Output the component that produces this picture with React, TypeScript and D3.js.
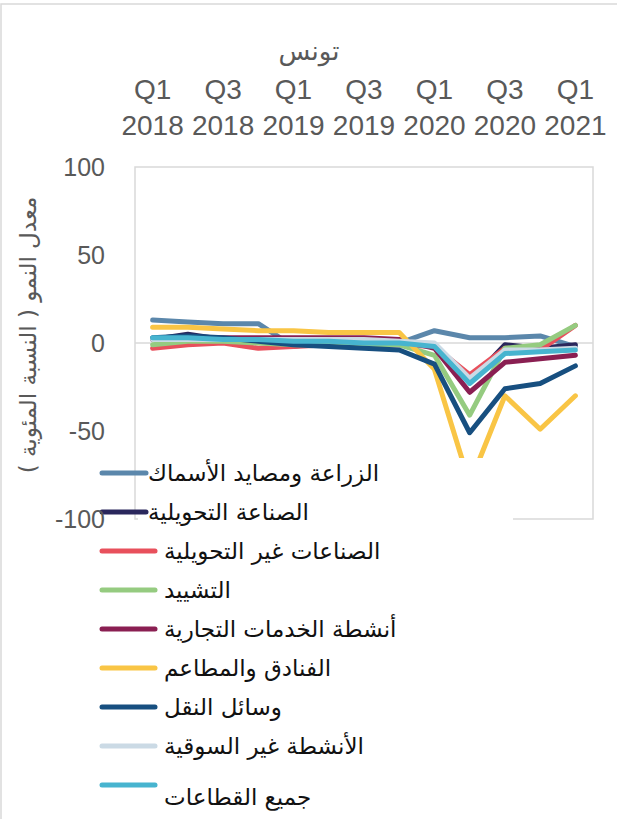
import React from "react";
import * as d3 from "d3";

const quarters = [
  "Q1 2018", "Q2 2018", "Q3 2018", "Q4 2018",
  "Q1 2019", "Q2 2019", "Q3 2019", "Q4 2019",
  "Q1 2020", "Q2 2020", "Q3 2020", "Q4 2020",
  "Q1 2021",
];
const tickQuarters = ["Q1 2018", "Q3 2018", "Q1 2019", "Q3 2019", "Q1 2020", "Q3 2020", "Q1 2021"];
const yTicks = [100, 50, 0, -50, -100];
const gridValues = [0];

const chartTitle = "تونس";
const yAxisTitle = "معدل النمو ( النسبة المئوية )";

const seriesNames = [
  "الزراعة ومصايد الأسماك",
  "الصناعة التحويلية",
  "الصناعات غير التحويلية",
  "التشييد",
  "أنشطة الخدمات التجارية",
  "الفنادق والمطاعم",
  "وسائل النقل",
  "الأنشطة غير السوقية",
  "جميع القطاعات",
];

const agriculture = [13, 12, 11, 11, -2, 1, 0, 0, 7, 3, 3, 4, -2];
const manufacturing = [2, 5, 2, 1, 1, 0, 0, 0, -1, -22, -1, -3, -1];
const nonManufacturing = [-3, -1, 0, -3, -2, -1, -1, -1, -2, -18, -3, -4, 10];
const construction = [-1, 1, 1, 0, -1, -1, -1, -1, -7, -41, -3, -1, 10];
const tradeServices = [2, 3, 3, 3, 3, 3, 3, 2, -3, -28, -11, -9, -7];
const hotels = [9, 9, 8, 7, 7, 6, 6, 6, -15, -80, -30, -49, -30];
const transport = [3, 4, 3, 1, -1, -2, -3, -4, -12, -51, -26, -23, -13];
const nonMarket = [2, 2, 2, 2, 2, 2, 2, 1, 0, -20, -4, -4, -3];
const allSectors = [3, 3, 2, 2, 1, 1, 0, 0, -2, -23, -6, -5, -4];

const seriesValues = [
  agriculture, manufacturing, nonManufacturing, construction,
  tradeServices, hotels, transport, nonMarket, allSectors,
];
const seriesColors = [
  "#5B87AB", "#2A275C", "#E8505C", "#95CB80",
  "#8A1F52", "#F9C545", "#174F80", "#CBDAE5", "#47B4CF",
];

const W = 617;
const H = 819;
const plot = { left: 135, right: 593, top: 167, bottom: 519 };
const gray = "#595959";
const numFont = "'Liberation Sans', Arial, sans-serif";
const arFont = "'DejaVu Sans', sans-serif";

export default function App() {
  const x = d3.scalePoint<string>().domain(quarters).range([plot.left, plot.right]).padding(0.5);
  const y = d3.scaleLinear().domain([-100, 100]).range([plot.bottom, plot.top]);
  const line = d3
    .line<number>()
    .x((_, i) => x(quarters[i]) as number)
    .y((d) => y(d));

  const legendTop = 473;
  const legendStep = 39;

  return (
    <svg
      width={W}
      height={H}
      style={{ position: "absolute", left: 0, top: 0, background: "#fff" }}
    >
      <rect x={0} y={0} width={W} height={H} fill="#fff" />
      <rect x={1} y={4} width={W + 20} height={H + 20} fill="none" stroke="#d9d9d9" strokeWidth={1.5} />

      {/* title */}
      <text x={309} y={60} textAnchor="middle" fontFamily={arFont} fontSize={26} fill={gray}>
        {chartTitle}
      </text>

      {/* x tick labels (top) */}
      {tickQuarters.map((q) => {
        const [qq, yr] = q.split(" ");
        const cx = x(q) as number;
        return (
          <g key={q} fontFamily={numFont} fontSize={28} fill={gray} textAnchor="middle">
            <text x={cx} y={99}>{qq}</text>
            <text x={cx} y={135}>{yr}</text>
          </g>
        );
      })}

      {/* plot border + gridlines */}
      <rect
        x={plot.left}
        y={plot.top}
        width={plot.right - plot.left}
        height={plot.bottom - plot.top}
        fill="none"
        stroke="#d9d9d9"
        strokeWidth={1.5}
      />
      {gridValues.map((g) => (
        <line key={g} x1={plot.left} x2={plot.right} y1={y(g)} y2={y(g)} stroke="#d9d9d9" strokeWidth={1.5} />
      ))}

      {/* series */}
      {seriesValues.map((vals, i) => (
        <path
          key={seriesNames[i]}
          d={line(vals) || ""}
          fill="none"
          stroke={seriesColors[i]}
          strokeWidth={5}
          strokeLinejoin="round"
          strokeLinecap="round"
        />
      ))}

      {/* y axis title */}
      <text
        transform={`translate(28, 335) rotate(-90)`}
        textAnchor="middle"
        dominantBaseline="central"
        fontFamily={arFont}
        fontSize={23}
        fill={gray}
      >
        {yAxisTitle}
      </text>

      {/* legend */}
      <rect x={138} y={458} width={375} height={H - 458} fill="#fff" />
      {seriesNames.map((name, i) => {
        const ly = legendTop + i * legendStep;
        return (
          <g key={name}>
            <line x1={102} x2={i < 2 ? 146 : 155} y1={ly} y2={ly} stroke={seriesColors[i]} strokeWidth={5} strokeLinecap="round" />
            <text
              x={i < 2 ? 148 : 164}
              y={ly + (i === 8 ? 12 : 0)}
              dy="0.35em"
              fontFamily={arFont}
              fontSize={23}
              fill="#111"
            >
              {name}
            </text>
          </g>
        );
      })}

      {/* y tick labels */}
      {yTicks.map((t) => (
        <text
          key={t}
          x={105}
          y={y(t)}
          dy="0.35em"
          textAnchor="end"
          fontFamily={numFont}
          fontSize={25}
          fill={gray}
        >
          {t}
        </text>
      ))}
    </svg>
  );
}
